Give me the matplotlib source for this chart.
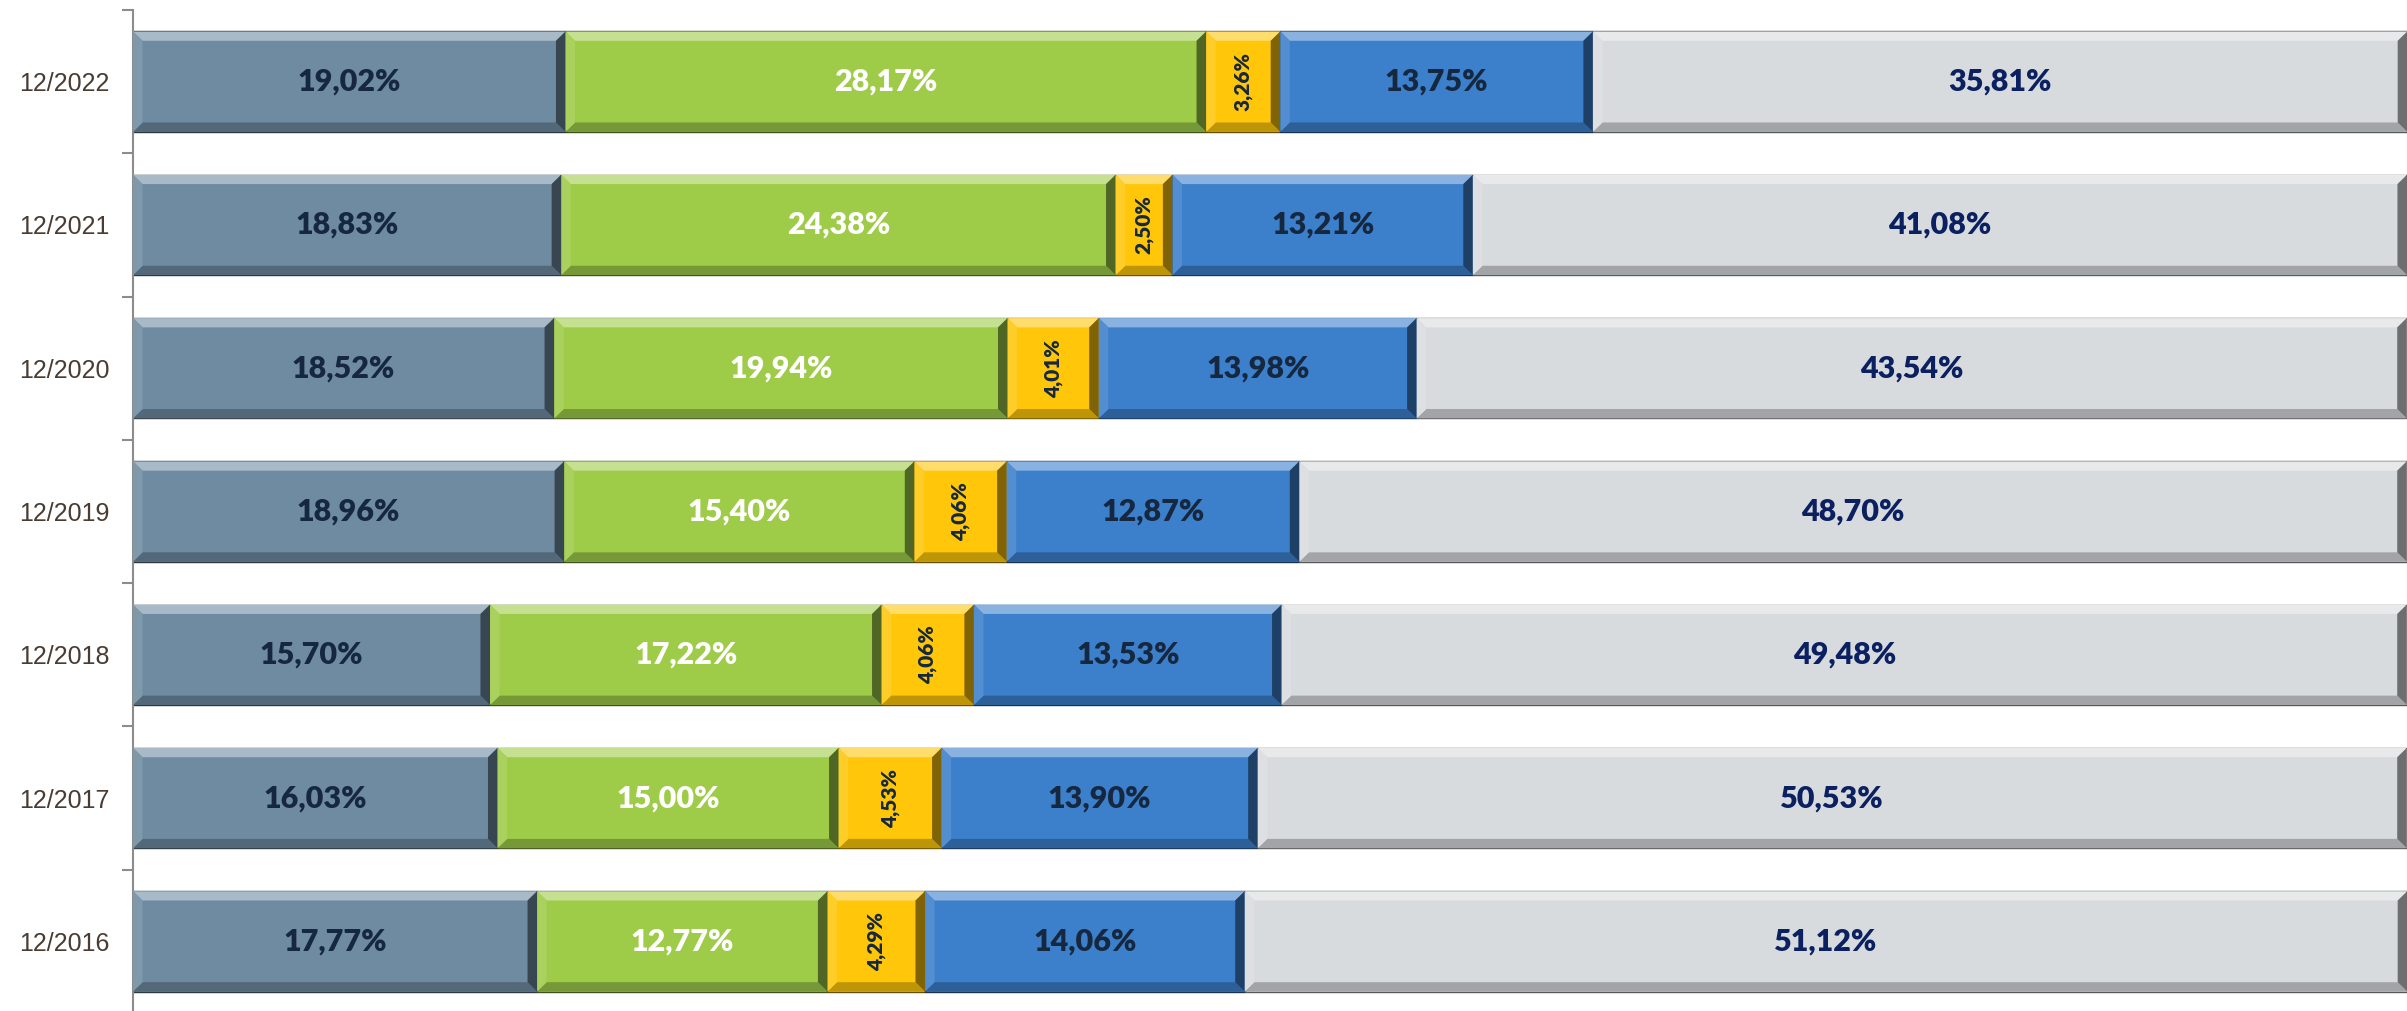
import matplotlib.pyplot as plt
from matplotlib.patches import Polygon
import numpy as np
from matplotlib.colors import to_rgb

periods = ['12/2016', '12/2017', '12/2018', '12/2019', '12/2020', '12/2021', '12/2022']
seg1 = [17.77, 16.03, 15.70, 18.96, 18.52, 18.83, 19.02]
seg2 = [12.77, 15.00, 17.22, 15.40, 19.94, 24.38, 28.17]
seg3 = [4.29, 4.53, 4.06, 4.06, 4.01, 2.50, 3.26]
seg4 = [14.06, 13.90, 13.53, 12.87, 13.98, 13.21, 13.75]
seg5 = [51.12, 50.53, 49.48, 48.70, 43.54, 41.08, 35.81]

series = [seg1, seg2, seg3, seg4, seg5]
colors = ['#6e8ba1', '#9ecb48', '#ffc60a', '#3c7fcb', '#d8dbde']
label_colors = ['#16283f', '#ffffff', '#16283f', '#16283f', '#0b2060']

plt.rcParams['font.family'] = ['Lato', 'DejaVu Sans']

fig = plt.figure(figsize=(24.07, 10.11), dpi=100)
ax = fig.add_axes([133 / 2407, -2 / 1011, 1 - 133 / 2407, 1003 / 1011])

y = np.arange(len(periods))
h = 0.70
left = np.zeros(len(periods))


def shade(c, f):
    r = np.array(to_rgb(c))
    if f > 0:
        return tuple(r + (1 - r) * f)
    return tuple(r * (1 + f))


bx = 0.42   # bevel width in x (data units)
by = 0.065  # bevel height in y
for i, vals in enumerate(series):
    vals = np.array(vals)
    bars = ax.barh(y, vals, left=left, height=h, color=colors[i],
                   edgecolor=shade(colors[i], -0.6), linewidth=1.0, zorder=2)
    for b in bars:
        x0, y0 = b.get_x(), b.get_y()
        w, hh = b.get_width(), b.get_height()
        x1, y1 = x0 + w, y0 + hh
        # y0 is the bottom edge on screen, y1 the top edge
        top = [(x0, y1), (x1, y1), (x1 - bx, y1 - by), (x0 + bx, y1 - by)]
        bot = [(x0, y0), (x1, y0), (x1 - bx, y0 + by), (x0 + bx, y0 + by)]
        lft = [(x0, y1), (x0 + bx, y1 - by), (x0 + bx, y0 + by), (x0, y0)]
        rgt = [(x1, y1), (x1 - bx, y1 - by), (x1 - bx, y0 + by), (x1, y0)]
        ax.add_patch(Polygon(top, closed=True, color=shade(colors[i], 0.40), lw=0, zorder=3))
        ax.add_patch(Polygon(bot, closed=True, color=shade(colors[i], -0.25), lw=0, zorder=3))
        ax.add_patch(Polygon(lft, closed=True, color=shade(colors[i], 0.12), lw=0, zorder=3))
        ax.add_patch(Polygon(rgt, closed=True, color=shade(colors[i], -0.50), lw=0, zorder=3))
    for j, v in enumerate(vals):
        txt = ('%.2f%%' % v).replace('.', ',')
        cx = left[j] + v / 2
        if i == 2:
            ax.text(cx, y[j], txt, ha='center', va='center', rotation=90,
                    fontsize=15, fontweight='heavy', color=label_colors[i], zorder=4)
        else:
            ax.text(cx, y[j], txt, ha='center', va='center',
                    fontsize=22, fontweight='heavy', color=label_colors[i], zorder=4)
    left = left + vals

ax.set_xlim(0, 100)
ax.set_ylim(-0.5, len(periods) - 0.5)
ax.set_yticks(y)
ax.set_yticklabels(periods, fontsize=18, color='#4a3c33',
                   family=['Liberation Sans', 'Lato'])
ax.set_yticks(np.arange(-0.5, len(periods)), minor=True)
ax.tick_params(axis='y', which='major', length=0, pad=17)
ax.tick_params(axis='y', which='minor', length=8, width=1.5, color='#8c8c8c')
ax.set_xticks([])
for s in ['top', 'right', 'bottom']:
    ax.spines[s].set_visible(False)
ax.spines['left'].set_color('#8c8c8c')
ax.spines['left'].set_linewidth(1.5)

fig.savefig('out.png', dpi=100)
